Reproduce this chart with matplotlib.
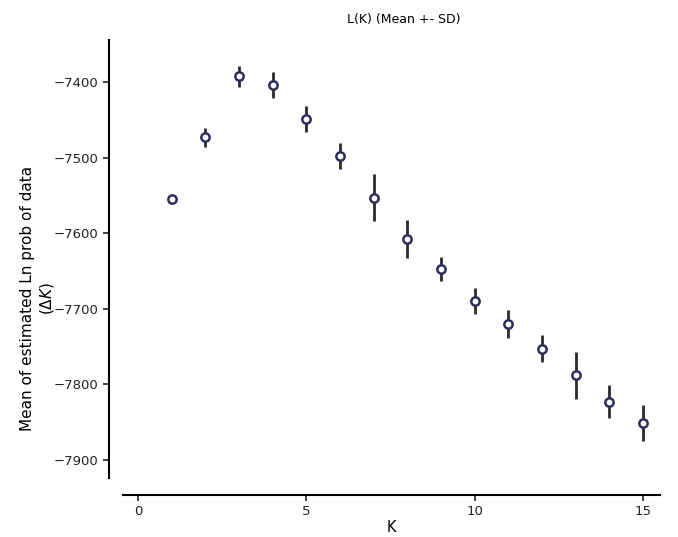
import matplotlib
matplotlib.use("Agg")
import matplotlib.pyplot as plt

# K values, mean Ln prob and SD
k_values = [1, 2, 3, 4, 5, 6, 7, 8, 9, 10, 11, 12, 13, 14, 15]
mean_lnp = [-7555, -7473, -7392, -7404, -7449, -7498, -7553, -7608,
            -7647, -7690, -7720, -7753, -7788, -7823, -7851]
sd_lnp = [1, 13, 14, 17, 17, 17, 31, 25, 16, 17, 18, 18, 31, 22, 24]

x_ticks = [0, 5, 10, 15]
y_ticks = [-7900, -7800, -7700, -7600, -7500, -7400]

fig = plt.figure(figsize=(6.78, 5.37), dpi=100)
ax = fig.add_axes([123 / 678, 1 - 478 / 537, (660 - 123) / 678, (478 - 40) / 537])

ax.errorbar(k_values, mean_lnp, yerr=sd_lnp, fmt='o', color='#2a2a2a', ecolor='#2a2a2a',
            elinewidth=2, capsize=0, markersize=6, markerfacecolor='white',
            markeredgecolor='#2e2d5c', markeredgewidth=1.8, zorder=3)

ax.set_xlim(-0.45, 15.5)
ax.set_ylim(-7924, -7344)
ax.set_xticks(x_ticks)
ax.set_yticks(y_ticks)
ax.set_yticklabels([f"\u2212{abs(v)}" for v in y_ticks])

for side in ['top', 'right']:
    ax.spines[side].set_visible(False)
ax.spines['left'].set_position(('outward', 10))
ax.spines['bottom'].set_position(('outward', 12))
ax.spines['left'].set_linewidth(1.5)
ax.spines['bottom'].set_linewidth(1.5)
ax.tick_params(direction='out', length=4, width=1.2, labelsize=9.5, colors='#222222')

ax.set_title('L(K) (Mean +- SD)', fontsize=9, x=0.523, pad=12)
ax.set_xlabel('K', fontsize=10.5)
ax.xaxis.set_label_coords(0.5, -0.095)
ax.set_ylabel('Mean of estimated Ln prob of data\n($\\mathit{\\Delta K}$)', fontsize=11)
ax.yaxis.set_label_coords(-0.125, 0.41)

fig.savefig('out.png', dpi=100)
